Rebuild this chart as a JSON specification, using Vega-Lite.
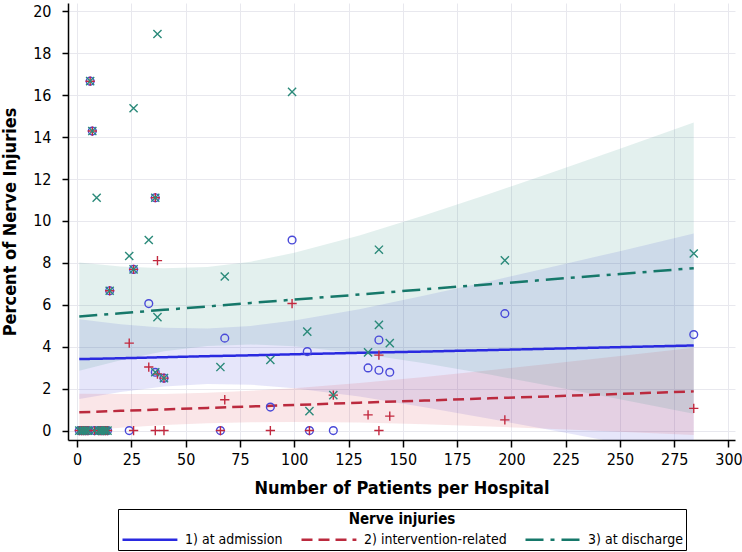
{
  "$schema": "https://vega.github.io/schema/vega-lite/v6.json",
  "width": 667,
  "height": 437,
  "autosize": {"type": "none"},
  "padding": {"left": 68, "top": 3, "right": 7, "bottom": 112},
  "background": "white",
  "config": {
    "view": {"stroke": null},
    "font": "DejaVu Sans Condensed, Liberation Sans, sans-serif",
    "axis": {
      "domainColor": "black",
      "domainWidth": 1.5,
      "tickColor": "black",
      "tickWidth": 1.5,
      "gridColor": "#e8e8ee",
      "gridWidth": 1,
      "labelFont": "DejaVu Sans Condensed, Liberation Sans, sans-serif",
      "labelFontSize": 16,
      "labelColor": "black",
      "titleFont": "DejaVu Sans Condensed, Liberation Sans, sans-serif",
      "titleFontSize": 18,
      "titleFontWeight": "bold",
      "titleColor": "black"
    },
    "legend": {
      "titleFont": "DejaVu Sans Condensed, Liberation Sans, sans-serif",
      "labelFont": "DejaVu Sans Condensed, Liberation Sans, sans-serif"
    }
  },
  "datasets": {
    "fit": [
      {"s": "1) at admission", "x": 1, "fit": 3.41, "lo": 1.51, "hi": 5.31},
      {"s": "1) at admission", "x": 20, "fit": 3.45, "lo": 1.84, "hi": 5.07},
      {"s": "1) at admission", "x": 40, "fit": 3.5, "lo": 2.1, "hi": 4.9},
      {"s": "1) at admission", "x": 60, "fit": 3.55, "lo": 2.22, "hi": 4.87},
      {"s": "1) at admission", "x": 80, "fit": 3.59, "lo": 2.19, "hi": 4.99},
      {"s": "1) at admission", "x": 100, "fit": 3.64, "lo": 2.02, "hi": 5.25},
      {"s": "1) at admission", "x": 130, "fit": 3.71, "lo": 1.62, "hi": 5.79},
      {"s": "1) at admission", "x": 160, "fit": 3.77, "lo": 1.11, "hi": 6.44},
      {"s": "1) at admission", "x": 190, "fit": 3.84, "lo": 0.56, "hi": 7.12},
      {"s": "1) at admission", "x": 220, "fit": 3.91, "lo": -0.01, "hi": 7.84},
      {"s": "1) at admission", "x": 250, "fit": 3.98, "lo": -0.6, "hi": 8.56},
      {"s": "1) at admission", "x": 284, "fit": 4.06, "lo": -1.28, "hi": 9.4},
      {"s": "2) intervention-related", "x": 1, "fit": 0.87, "lo": -0.02, "hi": 1.76},
      {"s": "2) intervention-related", "x": 20, "fit": 0.94, "lo": 0.13, "hi": 1.74},
      {"s": "2) intervention-related", "x": 40, "fit": 1.01, "lo": 0.26, "hi": 1.75},
      {"s": "2) intervention-related", "x": 60, "fit": 1.08, "lo": 0.35, "hi": 1.8},
      {"s": "2) intervention-related", "x": 80, "fit": 1.15, "lo": 0.4, "hi": 1.9},
      {"s": "2) intervention-related", "x": 100, "fit": 1.22, "lo": 0.41, "hi": 2.02},
      {"s": "2) intervention-related", "x": 130, "fit": 1.33, "lo": 0.38, "hi": 2.27},
      {"s": "2) intervention-related", "x": 160, "fit": 1.43, "lo": 0.3, "hi": 2.56},
      {"s": "2) intervention-related", "x": 190, "fit": 1.54, "lo": 0.19, "hi": 2.88},
      {"s": "2) intervention-related", "x": 220, "fit": 1.64, "lo": 0.07, "hi": 3.21},
      {"s": "2) intervention-related", "x": 250, "fit": 1.75, "lo": -0.06, "hi": 3.56},
      {"s": "2) intervention-related", "x": 284, "fit": 1.87, "lo": -0.21, "hi": 3.95},
      {"s": "3) at discharge", "x": 1, "fit": 5.44, "lo": 2.86, "hi": 8.02},
      {"s": "3) at discharge", "x": 20, "fit": 5.6, "lo": 3.36, "hi": 7.83},
      {"s": "3) at discharge", "x": 40, "fit": 5.76, "lo": 3.78, "hi": 7.74},
      {"s": "3) at discharge", "x": 60, "fit": 5.92, "lo": 4.04, "hi": 7.81},
      {"s": "3) at discharge", "x": 80, "fit": 6.09, "lo": 4.11, "hi": 8.06},
      {"s": "3) at discharge", "x": 100, "fit": 6.25, "lo": 4.02, "hi": 8.48},
      {"s": "3) at discharge", "x": 130, "fit": 6.49, "lo": 3.68, "hi": 9.31},
      {"s": "3) at discharge", "x": 160, "fit": 6.74, "lo": 3.21, "hi": 10.27},
      {"s": "3) at discharge", "x": 190, "fit": 6.98, "lo": 2.67, "hi": 11.3},
      {"s": "3) at discharge", "x": 220, "fit": 7.23, "lo": 2.09, "hi": 12.36},
      {"s": "3) at discharge", "x": 250, "fit": 7.47, "lo": 1.49, "hi": 13.45},
      {"s": "3) at discharge", "x": 284, "fit": 7.75, "lo": 0.8, "hi": 14.7}
    ],
    "pts": [
      {"s": "a", "n": 1, "pct": 0}, {"s": "a", "n": 2, "pct": 0}, {"s": "a", "n": 3, "pct": 0},
      {"s": "a", "n": 4, "pct": 0}, {"s": "a", "n": 5, "pct": 0}, {"s": "a", "n": 8, "pct": 0},
      {"s": "a", "n": 10, "pct": 0}, {"s": "a", "n": 11, "pct": 0}, {"s": "a", "n": 12, "pct": 0},
      {"s": "a", "n": 13, "pct": 0}, {"s": "a", "n": 14, "pct": 0}, {"s": "a", "n": 24, "pct": 0},
      {"s": "a", "n": 66, "pct": 0}, {"s": "a", "n": 107, "pct": 0}, {"s": "a", "n": 118, "pct": 0},
      {"s": "a", "n": 6, "pct": 16.67}, {"s": "a", "n": 7, "pct": 14.29}, {"s": "a", "n": 36, "pct": 11.11},
      {"s": "a", "n": 26, "pct": 7.69}, {"s": "a", "n": 15, "pct": 6.67}, {"s": "a", "n": 36, "pct": 2.78},
      {"s": "a", "n": 40, "pct": 2.5}, {"s": "a", "n": 99, "pct": 9.09}, {"s": "a", "n": 33, "pct": 6.06},
      {"s": "a", "n": 68, "pct": 4.41}, {"s": "a", "n": 106, "pct": 3.77}, {"s": "a", "n": 139, "pct": 4.32},
      {"s": "a", "n": 134, "pct": 2.99}, {"s": "a", "n": 139, "pct": 2.88}, {"s": "a", "n": 144, "pct": 2.78},
      {"s": "a", "n": 89, "pct": 1.12}, {"s": "a", "n": 197, "pct": 5.58}, {"s": "a", "n": 284, "pct": 4.58},
      {"s": "i", "n": 1, "pct": 0}, {"s": "i", "n": 2, "pct": 0}, {"s": "i", "n": 3, "pct": 0},
      {"s": "i", "n": 4, "pct": 0}, {"s": "i", "n": 5, "pct": 0}, {"s": "i", "n": 8, "pct": 0},
      {"s": "i", "n": 10, "pct": 0}, {"s": "i", "n": 11, "pct": 0}, {"s": "i", "n": 12, "pct": 0},
      {"s": "i", "n": 13, "pct": 0}, {"s": "i", "n": 14, "pct": 0}, {"s": "i", "n": 26, "pct": 0},
      {"s": "i", "n": 36, "pct": 0}, {"s": "i", "n": 40, "pct": 0}, {"s": "i", "n": 66, "pct": 0},
      {"s": "i", "n": 89, "pct": 0}, {"s": "i", "n": 107, "pct": 0}, {"s": "i", "n": 139, "pct": 0},
      {"s": "i", "n": 6, "pct": 16.67}, {"s": "i", "n": 7, "pct": 14.29}, {"s": "i", "n": 36, "pct": 11.11},
      {"s": "i", "n": 26, "pct": 7.69}, {"s": "i", "n": 15, "pct": 6.67}, {"s": "i", "n": 37, "pct": 2.7},
      {"s": "i", "n": 40, "pct": 2.5}, {"s": "i", "n": 37, "pct": 8.11}, {"s": "i", "n": 24, "pct": 4.17},
      {"s": "i", "n": 33, "pct": 3.03}, {"s": "i", "n": 68, "pct": 1.47}, {"s": "i", "n": 99, "pct": 6.06},
      {"s": "i", "n": 134, "pct": 0.75}, {"s": "i", "n": 144, "pct": 0.69}, {"s": "i", "n": 139, "pct": 3.6},
      {"s": "i", "n": 197, "pct": 0.51}, {"s": "i", "n": 284, "pct": 1.06}, {"s": "i", "n": 118, "pct": 1.69},
      {"s": "d", "n": 1, "pct": 0}, {"s": "d", "n": 2, "pct": 0}, {"s": "d", "n": 3, "pct": 0},
      {"s": "d", "n": 4, "pct": 0}, {"s": "d", "n": 5, "pct": 0}, {"s": "d", "n": 8, "pct": 0},
      {"s": "d", "n": 10, "pct": 0}, {"s": "d", "n": 11, "pct": 0}, {"s": "d", "n": 12, "pct": 0},
      {"s": "d", "n": 13, "pct": 0}, {"s": "d", "n": 14, "pct": 0},
      {"s": "d", "n": 6, "pct": 16.67}, {"s": "d", "n": 7, "pct": 14.29}, {"s": "d", "n": 36, "pct": 11.11},
      {"s": "d", "n": 26, "pct": 7.69}, {"s": "d", "n": 15, "pct": 6.67}, {"s": "d", "n": 36, "pct": 2.78},
      {"s": "d", "n": 40, "pct": 2.5}, {"s": "d", "n": 37, "pct": 18.92}, {"s": "d", "n": 26, "pct": 15.38},
      {"s": "d", "n": 9, "pct": 11.11}, {"s": "d", "n": 33, "pct": 9.09}, {"s": "d", "n": 99, "pct": 16.16},
      {"s": "d", "n": 24, "pct": 8.33}, {"s": "d", "n": 37, "pct": 5.41}, {"s": "d", "n": 66, "pct": 3.03},
      {"s": "d", "n": 68, "pct": 7.35}, {"s": "d", "n": 89, "pct": 3.37}, {"s": "d", "n": 106, "pct": 4.72},
      {"s": "d", "n": 107, "pct": 0.93}, {"s": "d", "n": 139, "pct": 5.04}, {"s": "d", "n": 134, "pct": 3.73},
      {"s": "d", "n": 144, "pct": 4.17}, {"s": "d", "n": 139, "pct": 8.63}, {"s": "d", "n": 197, "pct": 8.12},
      {"s": "d", "n": 284, "pct": 8.45}, {"s": "d", "n": 118, "pct": 1.69}
    ]
  },
  "layer": [
    {
      "data": {"name": "fit"},
      "mark": {"type": "area", "opacity": 0.13, "clip": true},
      "encoding": {
        "x": {"field": "x", "type": "quantitative", "scale": {"domain": [-4.2, 303], "nice": false, "zero": false},
          "axis": {"values": [0, 25, 50, 75, 100, 125, 150, 175, 200, 225, 250, 275, 300], "title": "Number of Patients per Hospital", "tickSize": 7, "labelPadding": 4, "titlePadding": 12}},
        "y": {"field": "lo", "type": "quantitative", "scale": {"domain": [-0.45, 20.4], "nice": false, "zero": false},
          "axis": {"values": [0, 2, 4, 6, 8, 10, 12, 14, 16, 18, 20], "title": "Percent of Nerve Injuries", "tickSize": 6, "labelPadding": 11, "titlePadding": 13}},
        "y2": {"field": "hi"},
        "fill": {"field": "s", "type": "nominal", "legend": null,
          "scale": {"domain": ["3) at discharge", "2) intervention-related", "1) at admission"], "range": ["#2a8a7a", "#d83c4c", "#3c3cdc"]}}
      }
    },
    {
      "data": {"name": "fit"},
      "mark": {"type": "line", "strokeWidth": 2.5, "clip": true},
      "encoding": {
        "x": {"field": "x", "type": "quantitative"},
        "y": {"field": "fit", "type": "quantitative"},
        "color": {"field": "s", "type": "nominal",
          "scale": {"domain": ["1) at admission", "2) intervention-related", "3) at discharge"], "range": ["#2a2ae0", "#bb2a3e", "#16786a"]},
          "legend": {"title": "Nerve injuries", "orient": "none", "legendX": 50, "legendY": 506, "direction": "horizontal",
            "titleAnchor": "middle", "titleFontSize": 15, "titleFontWeight": "bold", "titleColor": "black",
            "labelFontSize": 14, "labelColor": "black", "symbolType": "M-1,0L5.1,0", "symbolSize": 324,
            "symbolStrokeWidth": 2.5, "columnPadding": 13, "labelOffset": 43, "strokeColor": "black", "fillColor": "white", "padding": 3, "titlePadding": 2}},
        "strokeDash": {"field": "s", "type": "nominal",
          "scale": {"domain": ["1) at admission", "2) intervention-related", "3) at discharge"], "range": [[1, 0], [11, 6], [18, 7, 4, 7]]}}
      }
    },
    {
      "data": {"name": "pts"},
      "mark": {"type": "point", "filled": false, "size": 60, "strokeWidth": 1.4, "opacity": 1},
      "encoding": {
        "x": {"field": "n", "type": "quantitative"},
        "y": {"field": "pct", "type": "quantitative"},
        "stroke": {"field": "s", "type": "nominal", "legend": null,
          "scale": {"domain": ["a", "i", "d"], "range": ["#4848d8", "#c2283e", "#2b8a7a"]}},
        "shape": {"field": "s", "type": "nominal", "legend": null,
          "scale": {"domain": ["a", "i", "d"], "range": ["circle", "M-1.2,0L1.2,0M0,-1.2L0,1.2", "M-1.05,-1.05L1.05,1.05M-1.05,1.05L1.05,-1.05"]}}
      }
    }
  ]
}
